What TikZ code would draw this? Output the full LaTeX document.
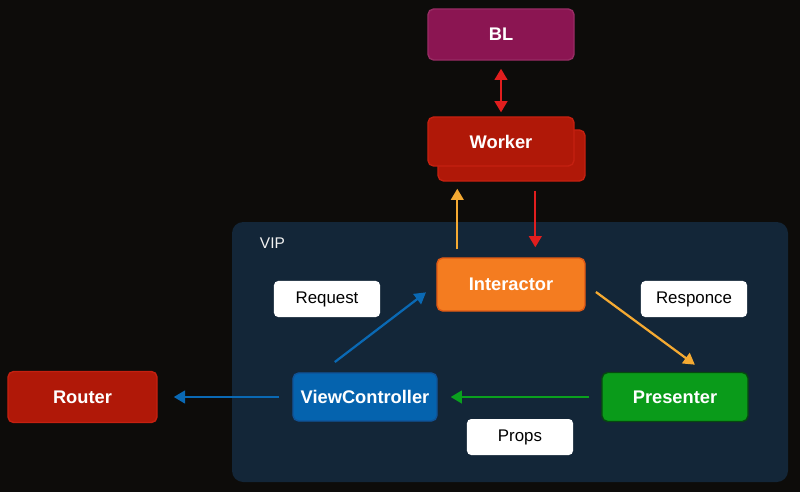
\documentclass[tikz,border=0pt]{standalone}
\usepackage{fontspec}
\setmainfont{Liberation Sans}
\usepackage{tikz}
\usetikzlibrary{positioning}
\usetikzlibrary{arrows.meta}
\usetikzlibrary{calc}

\definecolor{bgblack}{RGB}{13,12,10}
\definecolor{vipblue}{RGB}{19,38,56}
\definecolor{blpurple}{RGB}{139,21,82}
\definecolor{workred}{RGB}{176,24,8}
\definecolor{workedge}{RGB}{196,32,16}
\definecolor{interorange}{RGB}{244,124,32}
\definecolor{interedge}{RGB}{222,88,20}
\definecolor{presgreen}{RGB}{10,155,26}
\definecolor{presedge}{RGB}{6,72,16}
\definecolor{vcblue}{RGB}{5,99,174}
\definecolor{vcedge}{RGB}{16,82,150}
\definecolor{arrred}{RGB}{225,30,30}
\definecolor{arrorange}{RGB}{245,170,50}
\definecolor{arrblue}{RGB}{10,105,180}
\definecolor{arrgreen}{RGB}{10,160,30}

\begin{document}
\begin{tikzpicture}[x=0.025cm,y=-0.025cm,
  box/.style={rounded corners=4pt,line width=1pt,text=white,
    font=\bfseries\fontsize{13}{15}\selectfont,
    minimum width=3.65cm,minimum height=1.225cm},
  tag/.style={fill=white,rounded corners=3pt,
    font=\fontsize{12}{14}\selectfont,
    minimum width=2.65cm,minimum height=0.9cm},
  link/.style={line width=1.6pt,-{Triangle[length=8pt,width=9pt]}}]
  % canvas
  \fill[bgblack] (0,0) rectangle (800,492);
  \useasboundingbox (0,0) rectangle (800,492);
  \fill[vipblue,rounded corners=8pt] (232,222) rectangle (788,482);
  \node[anchor=west,text=white!90!gray,font=\fontsize{11}{13}\selectfont] (vip) at (255,243) {VIP};
  % boxes
  \node[box,fill=blpurple,draw=blpurple!90!white,minimum height=1.275cm] (bl) at (501,34.5) {BL};
  \node[box,fill=workred,draw=workedge,minimum width=3.675cm,minimum height=1.275cm] (wback) at (511.5,155.5) {};
  \node[box,fill=workred,draw=workedge] (work) at (501,141.5) {Worker};
  \node[box,fill=interorange,draw=interedge,minimum width=3.7cm,minimum height=1.325cm] (inter) at (511,284.5) {Interactor};
  \node[box,fill=presgreen,draw=presedge] (pres) at (675,397) {Presenter};
  \node[box,fill=vcblue,draw=vcedge,minimum width=3.6cm,minimum height=1.2cm] (vc) at (365,397) {ViewController};
  \node[box,fill=workred,draw=workedge,minimum width=3.725cm,minimum height=1.275cm] (router) at (82.5,397) {Router};
  % labels
  \node[tag] (request) at (327,299) {Request};
  \node[tag] (responce) at (694,299) {Responce};
  \node[tag] (props) at (520,437) {Props};
  % arrows
  \coordinate (up) at ([xshift=0.525cm]inter.north west);
  \coordinate (dn) at ([xshift=2.475cm]inter.north west);
  \draw[line width=1.6pt,arrred,{Triangle[length=8pt,width=9pt]}-{Triangle[length=8pt,width=9pt]},
    shorten <=5.7pt,shorten >=2.8pt] (bl.south) -- (work.north);
  \draw[link,arrorange,shorten <=5.7pt,shorten >=5pt] (up) -- (up |- wback.south);
  \draw[link,arrred,shorten <=6.4pt,shorten >=7.1pt] (dn |- wback.south) -- (dn);
  \draw[link,arrorange,shorten <=9pt,shorten >=8.5pt] (inter.east) -- ($(pres.north west)!0.7!(pres.north east)$);
  \draw[link,arrblue,shorten <=12pt,shorten >=9.2pt] ($(vc.north west)!0.2!(vc.north east)$) -- (inter.west);
  \draw[link,arrblue,shorten <=9.2pt,shorten >=11.4pt] (vc.west) -- (router.east);
  \draw[link,arrgreen,shorten <=8.5pt,shorten >=9.2pt] (pres.west) -- (vc.east);
\end{tikzpicture}
\end{document}
